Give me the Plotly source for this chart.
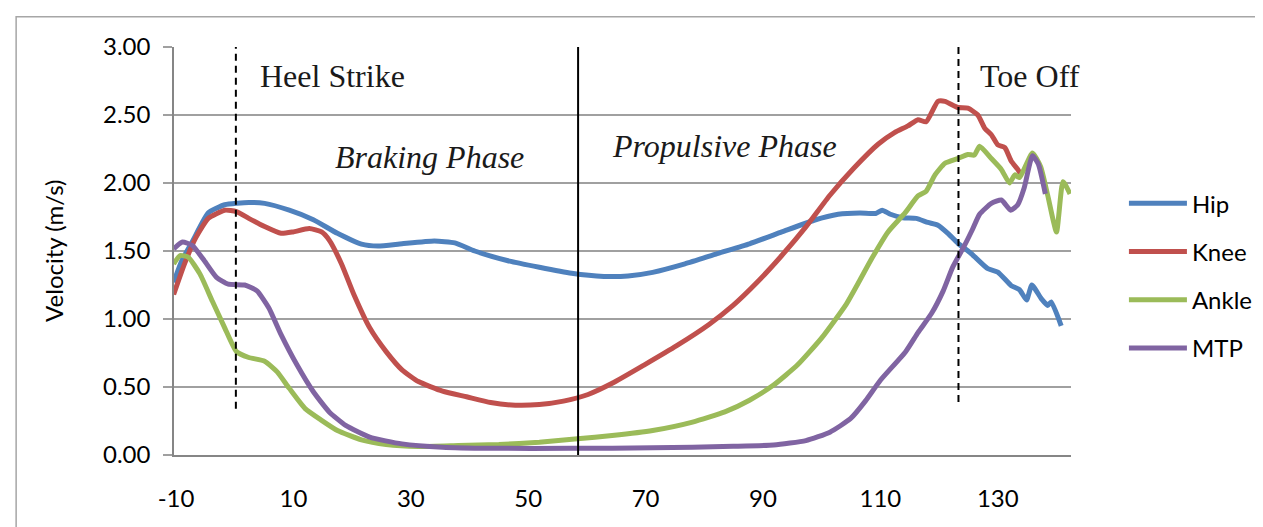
import plotly.graph_objects as go

# ---- data ----
hip_x = [-10.4, -9.0, -7.2, -4.5, -1.7, 2.4, 5.1, 9.3, 13.4, 17.5, 21.6, 24.4, 28.5, 34.0, 37.5, 40.9,
         46.4, 51.9, 57.4, 62.9, 67.0, 71.2, 76.7, 82.2, 87.7, 93.2, 98.7, 102.8, 106.5, 109.2, 110.3,
         111.7, 113.8, 116.1, 118.1, 119.8, 121.5, 123.2, 125.5, 128.3, 130.0, 132.3, 133.7, 134.9,
         135.8, 137.4, 138.5, 139.1, 140.8]
hip_y = [1.27, 1.43, 1.57, 1.78, 1.84, 1.857, 1.85, 1.80, 1.73, 1.63, 1.55, 1.536, 1.553, 1.573, 1.56, 1.50,
         1.43, 1.38, 1.336, 1.313, 1.316, 1.343, 1.405, 1.48, 1.553, 1.64, 1.726, 1.77, 1.78, 1.776, 1.80,
         1.77, 1.745, 1.74, 1.71, 1.69, 1.63, 1.557, 1.48, 1.37, 1.345, 1.245, 1.215, 1.14,
         1.25, 1.15, 1.10, 1.125, 0.95]

knee_x = [-10.4, -8.6, -6.6, -4.5, -1.7, 0.3, 2.4, 5.1, 7.9, 9.9, 12.7, 14.8, 16.1, 18.2, 20.3, 23.0,
          25.8, 28.5, 31.3, 35.4, 39.5, 43.6, 47.8, 51.9, 56.0, 60.2, 64.3, 69.8, 75.3, 80.8, 84.9, 89.0,
          93.2, 97.3, 101.4, 105.5, 109.6, 112.4, 114.7, 116.4, 117.8, 119.8, 121.0, 123.2, 124.9, 126.6,
          127.8, 128.9, 130.0, 131.2, 132.3, 133.4, 133.8]
knee_y = [1.18, 1.40, 1.60, 1.74, 1.80, 1.79, 1.74, 1.68, 1.63, 1.64, 1.665, 1.64, 1.58, 1.405, 1.18, 0.935,
          0.76, 0.626, 0.54, 0.47, 0.428, 0.386, 0.366, 0.371, 0.396, 0.445, 0.527, 0.663, 0.804, 0.96, 1.10, 1.27,
          1.467, 1.677, 1.91, 2.11, 2.285, 2.37, 2.42, 2.465, 2.45, 2.60, 2.60, 2.555, 2.55, 2.50,
          2.40, 2.355, 2.28, 2.26, 2.16, 2.10, 2.07]

ankle_x = [-10.4, -9.3, -7.9, -5.9, -3.8, -1.7, 0.3, 2.4, 5.1, 7.2, 9.3, 12.0, 14.8, 17.5, 21.6, 25.8,
           31.3, 38.1, 45.0, 51.9, 58.4, 64.3, 71.2, 78.0, 83.5, 87.7, 91.8, 95.9, 100.0, 104.2, 106.3,
           108.6, 111.3, 114.2, 116.4, 117.8, 119.3, 121.0, 123.2, 124.9, 126.0, 126.9, 128.9, 130.6,
           132.0, 132.9, 133.7, 135.9, 137.3, 138.5, 140.0, 141.1, 142.3]
ankle_y = [1.405, 1.467, 1.454, 1.33, 1.13, 0.935, 0.76, 0.717, 0.69, 0.613, 0.49, 0.341, 0.255, 0.18, 0.111, 0.077,
           0.062, 0.069, 0.077, 0.094, 0.119, 0.143, 0.18, 0.242, 0.317, 0.403, 0.514, 0.663, 0.861, 1.11, 1.27,
           1.45, 1.64, 1.78, 1.905, 1.94, 2.06, 2.145, 2.18, 2.21, 2.205, 2.27, 2.18, 2.10,
           2.0, 2.06, 2.04, 2.22, 2.12, 1.91, 1.64, 2.01, 1.92]

mtp_x = [-10.4, -8.9, -7.2, -5.2, -3.1, -1.1, 1.7, 3.8, 5.8, 7.9, 10.6, 13.4, 16.1, 18.9, 23.0, 28.5,
         35.4, 43.6, 57.4, 64.3, 71.2, 78.0, 84.9, 91.8, 97.3, 101.4, 104.9, 107.5, 110.0, 114.3, 116.4,
         118.7, 120.7, 122.3, 124.2, 125.7, 126.9, 128.9, 130.6, 132.2, 133.4, 134.5, 135.9, 136.9, 138.1]
mtp_y = [1.516, 1.566, 1.54, 1.43, 1.306, 1.256, 1.25, 1.207, 1.083, 0.885, 0.663, 0.465, 0.317, 0.218, 0.131, 0.082,
         0.057, 0.049, 0.049, 0.049, 0.054, 0.057, 0.064, 0.074, 0.106, 0.168, 0.267, 0.40, 0.55, 0.76, 0.90,
         1.04, 1.207, 1.38, 1.53, 1.66, 1.77, 1.85, 1.875, 1.80, 1.84, 1.965, 2.20, 2.14, 1.92]

series_names = ["Hip", "Knee", "Ankle", "MTP"]
series_colors = ["#4F81BD", "#C0504D", "#9BBB59", "#8064A2"]

x_ticks = [-10, 10, 30, 50, 70, 90, 110, 130]
y_ticks = [0.0, 0.5, 1.0, 1.5, 2.0, 2.5, 3.0]

heel_strike_x = 0.2
toe_off_x = 123.3
phase_split_x = 58.5

# ---- figure ----
fig = go.Figure()
for name, color, xs, ys in zip(series_names, series_colors,
                               [hip_x, knee_x, ankle_x, mtp_x],
                               [hip_y, knee_y, ankle_y, mtp_y]):
    fig.add_trace(go.Scatter(x=xs, y=ys, name=name, mode="lines", legendgroup=name,
                             line=dict(color=color, width=5, shape="spline", smoothing=0.5)))

grid_col = "#A0A0A0"
axis_col = "#868686"
tick_font = dict(family="Lato", size=24, color="#000000")

fig.update_layout(
    width=1263, height=527,
    margin=dict(l=166, r=200, t=39, b=80),
    paper_bgcolor="white", plot_bgcolor="white",
    showlegend=True,
    legend=dict(x=1.059, y=0.671, xanchor="left", yanchor="top",
                font=dict(family="Lato", size=24, color="#000000"),
                tracegroupgap=14, itemwidth=58, bgcolor="rgba(0,0,0,0)"),
    xaxis=dict(range=[-10.34, 142.47], tickmode="array", tickvals=x_ticks,
               ticktext=[str(v) for v in x_ticks], showgrid=False, zeroline=False,
               showline=True, linecolor=axis_col, linewidth=2, ticks="",
               tickfont=tick_font, ticklabelstandoff=21),
    yaxis=dict(range=[0, 3], tickmode="array", tickvals=y_ticks,
               ticktext=[f"{v:.2f}" for v in y_ticks], showgrid=True, gridcolor=grid_col,
               gridwidth=2, zeroline=False, showline=True, linecolor=axis_col, linewidth=1.5,
               ticks="outside", ticklen=9, tickcolor=grid_col, tickwidth=2,
               tickfont=tick_font, ticklabelstandoff=8),
)

# event lines
fig.add_shape(type="line", x0=heel_strike_x, x1=heel_strike_x, y0=0.34, y1=3.04, xref="x", yref="y",
              line=dict(color="black", width=2, dash="7px,5px"))
fig.add_shape(type="line", x0=toe_off_x, x1=toe_off_x, y0=0.39, y1=3.04, xref="x", yref="y",
              line=dict(color="black", width=2, dash="7px,5px"))
fig.add_shape(type="line", x0=phase_split_x, x1=phase_split_x, y0=0, y1=3.02, xref="x", yref="y",
              line=dict(color="black", width=2))

# outer chart border
fig.add_shape(type="rect", xref="paper", yref="paper", x0=-0.176, x1=1.3, y0=-0.25, y1=1.074,
              line=dict(color="#A6A6A6", width=1.5), layer="below")

serif = dict(family="Liberation Serif", size=32, color="#1a1a1a")
fig.add_annotation(x=4.0, y=2.79, text="Heel Strike", showarrow=False, xanchor="left", yanchor="middle", font=serif)
fig.add_annotation(x=126.6, y=2.79, text="Toe Off", showarrow=False, xanchor="left", yanchor="middle", font=serif)
fig.add_annotation(x=16.75, y=2.19, text="<i>Braking Phase</i>", showarrow=False, xanchor="left", yanchor="middle", font=serif)
fig.add_annotation(x=63.9, y=2.27, text="<i>Propulsive Phase</i>", showarrow=False, xanchor="left", yanchor="middle", font=serif)

# y-axis title
fig.add_annotation(xref="paper", yref="paper", x=-0.135, y=0.5, text="Velocity (m/s)", textangle=-90,
                   showarrow=False, xanchor="center", yanchor="middle",
                   font=dict(family="Lato", size=24, color="#000000"))

fig.write_html("out.html")
